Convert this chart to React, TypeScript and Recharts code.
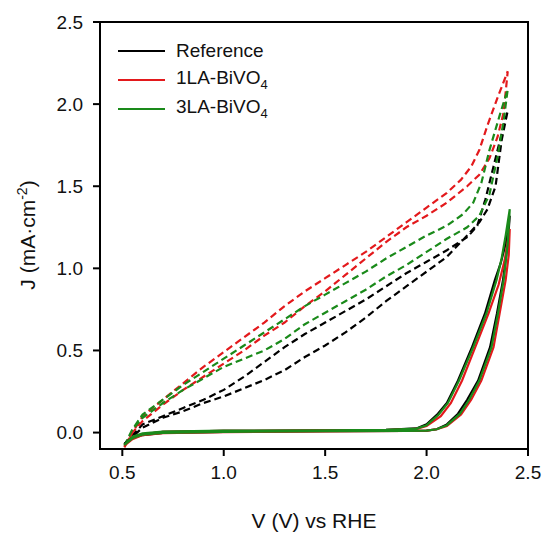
import React from 'react';
import { LineChart, Line, XAxis, YAxis, ReferenceArea, Label } from 'recharts';

// each curve is a closed scan loop: [potential V vs RHE, current density mA/cm2]
const refDark: [number, number][] = [
  [0.51, -0.07], [0.55, -0.035], [0.6, -0.015], [0.7, -0.002], [1.0, 0.004], [1.5, 0.008], [1.9, 0.01],
  [2.0, 0.012], [2.05, 0.02], [2.1, 0.05], [2.155, 0.115], [2.2, 0.2], [2.254, 0.317], [2.313, 0.52],
  [2.347, 0.725], [2.377, 0.93], [2.4, 1.15], [2.41, 1.32],
  [2.39, 1.15], [2.365, 1.03], [2.337, 0.93], [2.288, 0.725], [2.224, 0.52], [2.155, 0.317], [2.1, 0.18],
  [2.056, 0.115], [2.0, 0.05], [1.95, 0.025], [1.8, 0.016], [1.5, 0.014], [1.0, 0.01], [0.7, 0.004],
  [0.6, -0.01], [0.55, -0.03], [0.51, -0.07],
];

const la1Dark: [number, number][] = [
  [0.51, -0.08], [0.55, -0.04], [0.6, -0.015], [0.7, -0.003], [1.0, 0.003], [1.5, 0.007], [1.9, 0.01],
  [2.0, 0.012], [2.05, 0.02], [2.1, 0.04], [2.17, 0.11], [2.22, 0.2], [2.27, 0.317], [2.33, 0.52],
  [2.36, 0.725], [2.39, 0.93], [2.405, 1.08], [2.41, 1.24],
  [2.385, 1.05], [2.355, 0.9], [2.305, 0.725], [2.24, 0.52], [2.175, 0.317], [2.12, 0.18],
  [2.07, 0.1], [2.0, 0.04], [1.95, 0.022], [1.8, 0.015], [1.5, 0.013], [1.0, 0.01], [0.7, 0.004],
  [0.6, -0.01], [0.55, -0.03], [0.51, -0.08],
];

const la3Dark: [number, number][] = [
  [0.51, -0.075], [0.55, -0.035], [0.6, -0.012], [0.7, -0.002], [1.0, 0.004], [1.5, 0.008], [1.9, 0.01],
  [2.0, 0.012], [2.05, 0.02], [2.1, 0.045], [2.165, 0.115], [2.21, 0.2], [2.26, 0.317], [2.32, 0.52],
  [2.352, 0.725], [2.38, 0.93], [2.4, 1.15], [2.41, 1.36],
  [2.39, 1.2], [2.37, 1.06], [2.345, 0.93], [2.295, 0.725], [2.23, 0.52], [2.16, 0.317], [2.105, 0.18],
  [2.06, 0.11], [2.0, 0.045], [1.95, 0.024], [1.8, 0.016], [1.5, 0.014], [1.0, 0.012], [0.7, 0.006],
  [0.6, -0.005], [0.55, -0.025], [0.51, -0.075],
];

const refLight: [number, number][] = [
  [0.51, -0.07], [0.6, 0.05], [0.7, 0.1], [0.8, 0.15], [0.9, 0.2], [1.0, 0.26], [1.1, 0.34],
  [1.2, 0.43], [1.3, 0.52], [1.4, 0.6], [1.5, 0.67], [1.6, 0.74], [1.7, 0.81], [1.8, 0.89],
  [1.9, 0.97], [2.0, 1.04], [2.1, 1.11], [2.2, 1.19], [2.25, 1.26], [2.29, 1.42], [2.33, 1.62],
  [2.36, 1.77], [2.4, 1.96],
  [2.37, 1.78], [2.34, 1.5], [2.3, 1.36], [2.26, 1.28], [2.2, 1.2], [2.1, 1.07], [2.0, 0.98],
  [1.9, 0.89], [1.8, 0.8], [1.7, 0.7], [1.6, 0.61], [1.5, 0.53], [1.4, 0.46], [1.3, 0.38],
  [1.2, 0.32], [1.1, 0.27], [1.0, 0.22], [0.9, 0.18], [0.8, 0.13], [0.7, 0.09], [0.6, 0.03], [0.51, -0.07],
];

const la1Light: [number, number][] = [
  [0.51, -0.09], [0.55, 0.0], [0.6, 0.1], [0.7, 0.2], [0.8, 0.3], [0.9, 0.4], [1.0, 0.49], [1.1, 0.58],
  [1.2, 0.67], [1.3, 0.77], [1.4, 0.86], [1.5, 0.94], [1.6, 1.02], [1.7, 1.1], [1.8, 1.19], [1.9, 1.28],
  [2.0, 1.37], [2.1, 1.46], [2.17, 1.54], [2.22, 1.62], [2.26, 1.72], [2.3, 1.87], [2.35, 2.04], [2.4, 2.2],
  [2.38, 1.95], [2.35, 1.8], [2.31, 1.67], [2.26, 1.57], [2.2, 1.5], [2.1, 1.4], [2.0, 1.32],
  [1.9, 1.25], [1.8, 1.16], [1.7, 1.06], [1.6, 0.96], [1.5, 0.86], [1.4, 0.77], [1.3, 0.67],
  [1.2, 0.59], [1.1, 0.5], [1.0, 0.42], [0.9, 0.34], [0.8, 0.26], [0.7, 0.17], [0.6, 0.07], [0.55, 0.0], [0.51, -0.09],
];

const la3Light: [number, number][] = [
  [0.51, -0.08], [0.55, 0.02], [0.6, 0.11], [0.7, 0.2], [0.8, 0.29], [0.9, 0.37], [1.0, 0.45], [1.1, 0.53],
  [1.2, 0.61], [1.3, 0.69], [1.4, 0.77], [1.5, 0.84], [1.6, 0.91], [1.7, 0.98], [1.8, 1.06], [1.9, 1.13],
  [2.0, 1.2], [2.1, 1.26], [2.18, 1.33], [2.23, 1.4], [2.27, 1.52], [2.31, 1.72], [2.36, 1.93], [2.4, 2.09],
  [2.38, 1.9], [2.35, 1.68], [2.31, 1.45], [2.26, 1.32], [2.2, 1.25], [2.1, 1.18], [2.0, 1.1],
  [1.9, 1.02], [1.8, 0.95], [1.7, 0.87], [1.6, 0.8], [1.5, 0.73], [1.4, 0.66], [1.3, 0.57],
  [1.2, 0.5], [1.1, 0.45], [1.0, 0.4], [0.9, 0.33], [0.8, 0.26], [0.7, 0.18], [0.6, 0.09], [0.55, 0.02], [0.51, -0.08],
];

const xTicks = [0.5, 1.0, 1.5, 2.0, 2.5];
const yTicks = [0, 0.5, 1.0, 1.5, 2.0, 2.5];

const BLACK = '#000000';
const RED = '#e3191c';
const GREEN = '#1a8a1a';
const FONT = '"Liberation Sans", Arial, sans-serif';

const toRows = (pts: [number, number][]) => pts.map(([v, j]) => ({ v, j }));

const series = [
  { name: 'ref-light', pts: refLight, color: BLACK, dash: '7 4' },
  { name: 'la1-light', pts: la1Light, color: RED, dash: '7 4' },
  { name: 'la3-light', pts: la3Light, color: GREEN, dash: '7 4' },
  { name: 'ref-dark', pts: refDark, color: BLACK, dash: undefined },
  { name: 'la1-dark', pts: la1Dark, color: RED, dash: undefined },
  { name: 'la3-dark', pts: la3Dark, color: GREEN, dash: undefined },
];

const legendItems = [
  { label: 'Reference', sub: '', color: BLACK },
  { label: '1LA-BiVO', sub: '4', color: RED },
  { label: '3LA-BiVO', sub: '4', color: GREEN },
];

const tickStyle = { fontSize: 19, fill: '#111', fontFamily: FONT };

const App: React.FC = () => {
  return (
    <div style={{ position: 'absolute', left: 0, top: 0, width: 544, height: 536, background: '#fff' }}>
      <LineChart width={544} height={536} margin={{ top: 22, right: 16, bottom: 47, left: 40 }}>
        <XAxis
          dataKey="v"
          type="number"
          domain={[0.39, 2.5]}
          allowDataOverflow
          ticks={xTicks}
          tickFormatter={(v: number) => v.toFixed(1)}
          tick={tickStyle}
          tickSize={7}
          tickMargin={10}
          height={40}
          axisLine={{ stroke: BLACK, strokeWidth: 2 }}
          tickLine={{ stroke: BLACK, strokeWidth: 2 }}
        >
          <Label
            content={() => (
              <text x={314} y={528} textAnchor="middle" fontSize={21} fontFamily={FONT} fill="#111">
                V (V) vs RHE
              </text>
            )}
          />
        </XAxis>
        <YAxis
          dataKey="j"
          type="number"
          domain={[-0.1, 2.5]}
          allowDataOverflow
          ticks={yTicks}
          tickFormatter={(v: number) => v.toFixed(1)}
          tick={tickStyle}
          tickSize={7}
          tickMargin={10}
          width={60}
          axisLine={{ stroke: BLACK, strokeWidth: 2 }}
          tickLine={{ stroke: BLACK, strokeWidth: 2 }}
        >
          <Label
            content={() => (
              <text
                x={35}
                y={235}
                transform="rotate(-90 35 235)"
                textAnchor="middle"
                fontSize={21}
                fontFamily={FONT}
                fill="#111"
              >
                J (mA·cm
                <tspan dy={-8} fontSize={14}>-2</tspan>
                <tspan dy={8}>)</tspan>
              </text>
            )}
          />
        </YAxis>
        <ReferenceArea x1={0.39} x2={2.5} y1={-0.1} y2={2.5} fill="none" stroke={BLACK} strokeWidth={2} />
        {series.map((s) => (
          <Line
            key={s.name}
            data={toRows(s.pts)}
            dataKey="j"
            type="linear"
            stroke={s.color}
            strokeWidth={2.2}
            strokeDasharray={s.dash}
            dot={false}
            activeDot={false}
            isAnimationActive={false}
          />
        ))}
      </LineChart>
      <div style={{ position: 'absolute', left: 118, top: 36, fontFamily: FONT, fontSize: 19, color: '#111' }}>
        {legendItems.map((it) => (
          <div key={it.label} style={{ display: 'flex', alignItems: 'center', height: 29 }}>
            <svg width={47} height={4} style={{ marginRight: 11 }}>
              <line x1={0} y1={2} x2={47} y2={2} stroke={it.color} strokeWidth={2} />
            </svg>
            <span>
              {it.label}
              {it.sub && <sub style={{ fontSize: 13 }}>{it.sub}</sub>}
            </span>
          </div>
        ))}
      </div>
    </div>
  );
};

export default App;
